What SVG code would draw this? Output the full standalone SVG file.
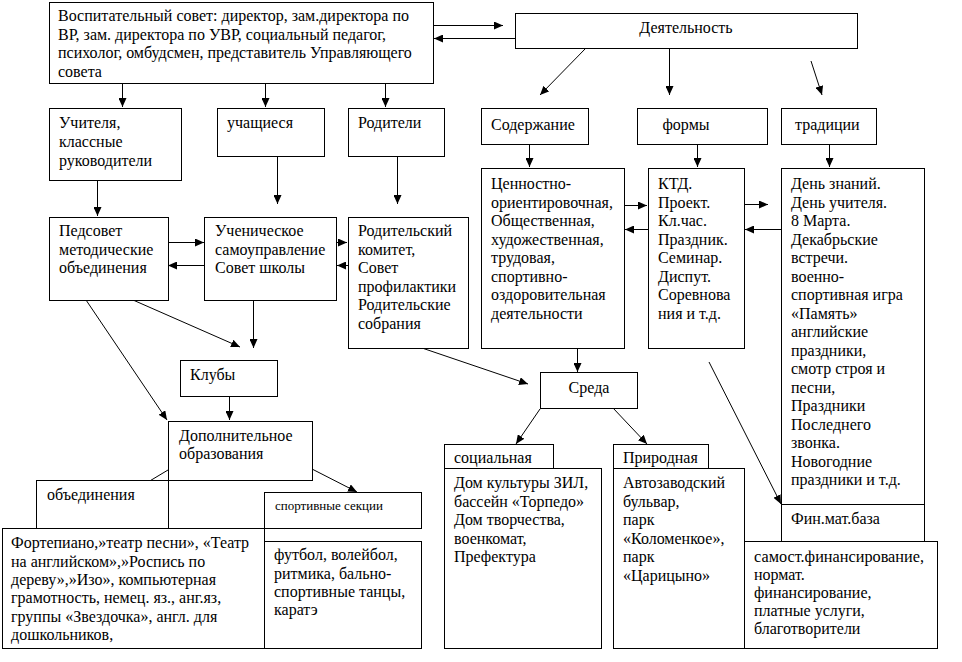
<svg xmlns="http://www.w3.org/2000/svg" width="962" height="662" viewBox="0 0 962 662">
<style>
rect.b{fill:#fff;stroke:#000;stroke-width:1}
line.d{stroke:#000;stroke-width:1}
text{font-family:"Liberation Serif","Times New Roman",serif;font-size:16px;fill:#000}
text.s{font-size:13px}
.c{text-anchor:middle}
</style>
<defs>
<marker id="a" markerUnits="userSpaceOnUse" markerWidth="9" markerHeight="8" refX="9" refY="4" orient="auto">
<path d="M0,0 L9,4 L0,8 z" fill="#000"/>
</marker>
</defs>
<rect width="962" height="662" fill="#fff"/>

<g id="connectors">
<line class="d" x1="122.5" y1="83" x2="122.5" y2="107" marker-end="url(#a)"/>
<line class="d" x1="265.5" y1="83" x2="265.5" y2="107" marker-end="url(#a)"/>
<line class="d" x1="385.5" y1="83" x2="385.5" y2="107" marker-end="url(#a)"/>
<line class="d" x1="433" y1="25.5" x2="503" y2="25.5" marker-end="url(#a)"/>
<line class="d" x1="515" y1="38.5" x2="434" y2="38.5" marker-end="url(#a)"/>
<line class="d" x1="586" y1="48" x2="540" y2="95" marker-end="url(#a)"/>
<line class="d" x1="669.5" y1="48" x2="669.5" y2="95" marker-end="url(#a)"/>
<line class="d" x1="811" y1="61" x2="822" y2="95" marker-end="url(#a)"/>
<line class="d" x1="529.5" y1="144" x2="529.5" y2="167" marker-end="url(#a)"/>
<line class="d" x1="697.5" y1="144" x2="697.5" y2="167" marker-end="url(#a)"/>
<line class="d" x1="829.5" y1="144" x2="829.5" y2="167" marker-end="url(#a)"/>
<line class="d" x1="97.5" y1="180" x2="97.5" y2="216" marker-end="url(#a)"/>
<line class="d" x1="277.5" y1="156" x2="277.5" y2="204" marker-end="url(#a)"/>
<line class="d" x1="397.5" y1="156" x2="397.5" y2="204" marker-end="url(#a)"/>
<line class="d" x1="168" y1="242.5" x2="204" y2="242.5" marker-end="url(#a)"/>
<line class="d" x1="204" y1="265.5" x2="168" y2="265.5" marker-end="url(#a)"/>
<line class="d" x1="336" y1="242.5" x2="347" y2="242.5" marker-end="url(#a)"/>
<line class="d" x1="348" y1="265.5" x2="337" y2="265.5" marker-end="url(#a)"/>
<line class="d" x1="86" y1="300" x2="167" y2="420" marker-end="url(#a)"/>
<line class="d" x1="133" y1="300" x2="240" y2="347" marker-end="url(#a)"/>
<line class="d" x1="253.5" y1="300" x2="253.5" y2="348" marker-end="url(#a)"/>
<line class="d" x1="229.5" y1="396" x2="229.5" y2="420" marker-end="url(#a)"/>
<line class="d" x1="168" y1="470" x2="133" y2="491" marker-end="url(#a)"/>
<line class="d" x1="312" y1="469" x2="357" y2="492" marker-end="url(#a)"/>
<line class="d" x1="422" y1="348" x2="528" y2="384" marker-end="url(#a)"/>
<line class="d" x1="577.5" y1="348" x2="577.5" y2="372" marker-end="url(#a)"/>
<line class="d" x1="540" y1="409" x2="516" y2="444" marker-end="url(#a)"/>
<line class="d" x1="613" y1="408" x2="647" y2="444" marker-end="url(#a)"/>
<line class="d" x1="624" y1="205.5" x2="647" y2="205.5" marker-end="url(#a)"/>
<line class="d" x1="648" y1="229.5" x2="625" y2="229.5" marker-end="url(#a)"/>
<line class="d" x1="744" y1="204.5" x2="768" y2="204.5" marker-end="url(#a)"/>
<line class="d" x1="781" y1="229.5" x2="745" y2="229.5" marker-end="url(#a)"/>
<line class="d" x1="709" y1="362" x2="781" y2="504" marker-end="url(#a)"/>
</g>

<g id="vospitatelny-sovet">
<rect class="b" x="49.5" y="2.5" width="384" height="81"/>
<text x="58" y="21">Воспитательный совет: директор, зам.директора по</text>
<text x="58" y="39.5">ВР, зам. директора по УВР, социальный педагог,</text>
<text x="58" y="58">психолог, омбудсмен, представитель Управляющего</text>
<text x="58" y="76.5">совета</text>
</g>

<g id="deyatelnost">
<rect class="b" x="515.5" y="13.5" width="342" height="35"/>
<text class="c" x="686" y="32.5">Деятельность</text>
</g>

<g id="uchitelya">
<rect class="b" x="49.5" y="108.5" width="132" height="72"/>
<text x="59" y="128">Учителя,</text>
<text x="59" y="147">классные</text>
<text x="59" y="165.5">руководители</text>
</g>

<g id="uchashchiesya">
<rect class="b" x="217.5" y="108.5" width="107" height="48"/>
<text x="227" y="128">учащиеся</text>
</g>

<g id="roditeli">
<rect class="b" x="348.5" y="108.5" width="96" height="48"/>
<text x="358" y="128">Родители</text>
</g>

<g id="soderzhanie">
<rect class="b" x="481.5" y="108.5" width="107" height="36"/>
<text x="491" y="129.5">Содержание</text>
</g>

<g id="formy">
<rect class="b" x="637.5" y="108.5" width="130" height="36"/>
<text class="c" x="686" y="129.5">формы</text>
</g>

<g id="traditsii">
<rect class="b" x="781.5" y="108.5" width="95" height="36"/>
<text x="795" y="129.5">традиции</text>
</g>

<g id="pedsovet">
<rect class="b" x="49.5" y="217.5" width="119" height="83"/>
<text x="59" y="236">Педсовет</text>
<text x="59" y="254.5">методические</text>
<text x="59" y="273">объединения</text>
</g>

<g id="uchenicheskoe">
<rect class="b" x="204.5" y="217.5" width="132" height="83"/>
<text x="215" y="236">Ученическое</text>
<text x="215" y="254.5">самоуправление</text>
<text x="215" y="273">Совет школы</text>
</g>

<g id="roditelsky-komitet">
<rect class="b" x="348.5" y="217.5" width="120" height="131"/>
<text x="358" y="236">Родительский</text>
<text x="358" y="254.5">комитет,</text>
<text x="358" y="273">Совет</text>
<text x="358" y="291.5">профилактики</text>
<text x="358" y="310">Родительские</text>
<text x="358" y="328.5">собрания</text>
</g>

<g id="tsennostno">
<rect class="b" x="481.5" y="168.5" width="143" height="180"/>
<text x="491" y="189">Ценностно-</text>
<text x="491" y="207.5">ориентировочная,</text>
<text x="491" y="226">Общественная,</text>
<text x="491" y="244.5">художественная,</text>
<text x="491" y="263">трудовая,</text>
<text x="491" y="281.5">спортивно-</text>
<text x="491" y="300">оздоровительная</text>
<text x="491" y="318.5">деятельности</text>
</g>

<g id="ktd">
<rect class="b" x="648.5" y="168.5" width="96" height="180"/>
<text x="658" y="189">КТД.</text>
<text x="658" y="207.5">Проект.</text>
<text x="658" y="226">Кл.час.</text>
<text x="658" y="244.5">Праздник.</text>
<text x="658" y="263">Семинар.</text>
<text x="658" y="281.5">Диспут.</text>
<text x="658" y="300">Соревнова</text>
<text x="658" y="318.5">ния и т.д.</text>
</g>

<g id="traditsii-spisok">
<rect class="b" x="781.5" y="168.5" width="143" height="373"/>
<line class="d" x1="781" y1="504.5" x2="924" y2="504.5"/>
<text x="791" y="189">День знаний.</text>
<text x="791" y="207.5">День учителя.</text>
<text x="791" y="226">8 Марта.</text>
<text x="791" y="244.5">Декабрьские</text>
<text x="791" y="263">встречи.</text>
<text x="791" y="281.5">военно-</text>
<text x="791" y="300">спортивная игра</text>
<text x="791" y="318.5">«Память»</text>
<text x="791" y="337">английские</text>
<text x="791" y="355.5">праздники,</text>
<text x="791" y="374">смотр строя и</text>
<text x="791" y="392.5">песни,</text>
<text x="791" y="411">Праздники</text>
<text x="791" y="429.5">Последнего</text>
<text x="791" y="448">звонка.</text>
<text x="791" y="466.5">Новогодние</text>
<text x="791" y="485">праздники и т.д.</text>
<text x="791" y="524">Фин.мат.база</text>
</g>

<g id="kluby">
<rect class="b" x="180.5" y="360.5" width="97" height="36"/>
<text x="190" y="380">Клубы</text>
</g>

<g id="dopolnitelnoe">
<rect class="b" x="168.5" y="421.5" width="144" height="59"/>
<text x="179" y="440.5">Дополнительное</text>
<text x="179" y="459">образования</text>
</g>

<g id="obedineniya">
<rect class="b" x="36.5" y="480.5" width="132" height="48"/>
<text x="47" y="500">объединения</text>
</g>

<g id="sportivnye-sektsii">
<rect class="b" x="264.5" y="492.5" width="157" height="36"/>
<text class="s" x="275" y="510">спортивные секции</text>
</g>

<g id="fortepiano">
<rect class="b" x="2.5" y="528.5" width="262" height="120"/>
<text x="11" y="548">Фортепиано,»театр песни», «Театр</text>
<text x="11" y="566.5">на английском»,»Роспись по</text>
<text x="11" y="585">дереву»,»Изо», компьютерная</text>
<text x="11" y="603">грамотность, немец. яз., анг.яз,</text>
<text x="11" y="621.5">группы «Звездочка», англ. для</text>
<text x="11" y="640">дошкольников,</text>
</g>

<g id="futbol">
<rect class="b" x="264.5" y="541.5" width="157" height="107"/>
<text x="274" y="560">футбол, волейбол,</text>
<text x="274" y="578.5">ритмика, бально-</text>
<text x="274" y="597">спортивные танцы,</text>
<text x="274" y="615">каратэ</text>
</g>

<g id="sreda">
<rect class="b" x="540.5" y="372.5" width="97" height="36"/>
<text class="c" x="589" y="393">Среда</text>
</g>

<g id="sotsialnaya">
<rect class="b" x="444.5" y="444.5" width="109" height="24"/>
<text x="454" y="463">социальная</text>
</g>

<g id="dom-kultury">
<rect class="b" x="444.5" y="468.5" width="157" height="180"/>
<text x="454" y="488">Дом культуры ЗИЛ,</text>
<text x="454" y="506.5">бассейн «Торпедо»</text>
<text x="454" y="525">Дом творчества,</text>
<text x="454" y="543.5">военкомат,</text>
<text x="454" y="562">Префектура</text>
</g>

<g id="prirodnaya">
<rect class="b" x="613.5" y="444.5" width="95" height="24"/>
<text x="623" y="463">Природная</text>
</g>

<g id="avtozavodsky">
<rect class="b" x="613.5" y="468.5" width="131" height="180"/>
<text x="623" y="488">Автозаводский</text>
<text x="623" y="506.5">бульвар,</text>
<text x="623" y="525">парк</text>
<text x="623" y="543.5">«Коломенкое»,</text>
<text x="623" y="562">парк</text>
<text x="623" y="580.5">«Царицыно»</text>
</g>

<g id="samost">
<rect class="b" x="744.5" y="541.5" width="193" height="107"/>
<text x="754" y="562" textLength="170" lengthAdjust="spacingAndGlyphs">самост.финансирование,</text>
<text x="754" y="580">нормат.</text>
<text x="754" y="598">финансирование,</text>
<text x="754" y="616">платные услуги,</text>
<text x="754" y="634">благотворители</text>
</g>
</svg>
